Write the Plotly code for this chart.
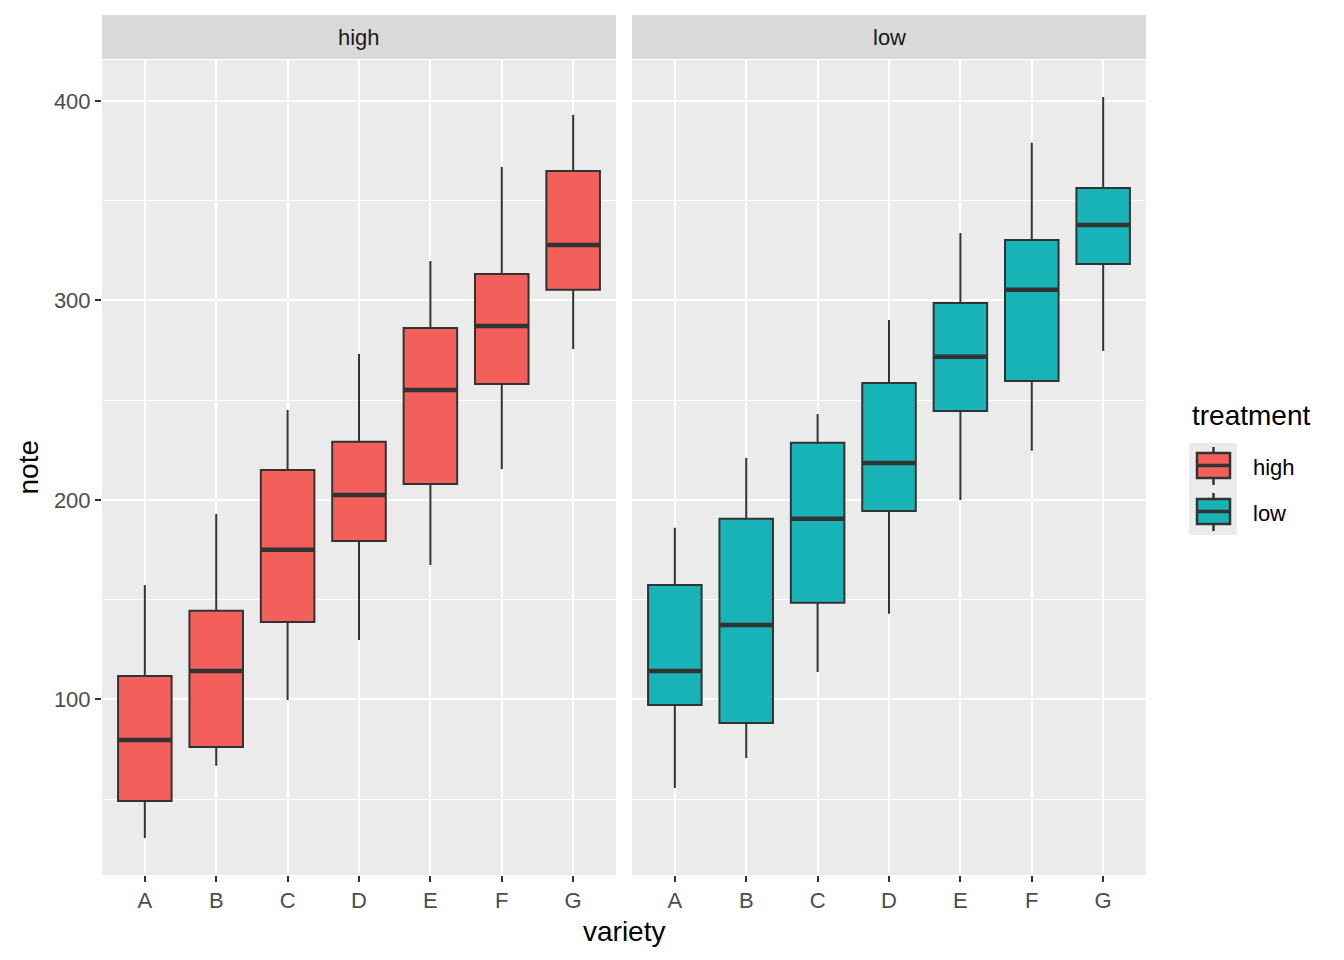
import plotly.graph_objects as go

varieties = ["A", "B", "C", "D", "E", "F", "G"]

high_lower = [30.6, 66.7, 99.7, 129.8, 167.4, 215.5, 275.7]
high_q1 = [49.1, 76.2, 138.8, 179.4, 208.0, 258.1, 305.3]
high_median = [79.7, 114.3, 175.0, 202.5, 255.1, 287.2, 327.8]
high_q3 = [111.8, 144.4, 215.0, 229.1, 286.2, 313.3, 364.9]
high_upper = [157.4, 193.0, 245.1, 273.2, 319.8, 366.9, 393.0]

low_lower = [55.6, 70.7, 113.8, 142.9, 200.0, 224.6, 274.7]
low_q1 = [97.2, 88.2, 148.4, 194.5, 244.6, 259.6, 318.3]
low_median = [114.3, 137.3, 190.5, 218.5, 271.7, 305.3, 337.8]
low_q3 = [157.4, 190.5, 228.6, 258.6, 298.7, 330.3, 356.4]
low_upper = [186.0, 221.0, 243.1, 290.2, 333.8, 379.0, 402.0]

treatments = ["high", "low"]
fills = ["#F35F5A", "#18B3B7"]
y_ticks = [100, 200, 300, 400]

# page offset (body margin) compensation
OFF = 8
W = 1344 - OFF
H = 960 - OFF
# plot area in page pixels
PX0, PX1, PY0, PY1 = 102, 1146, 60, 875
ml = PX0 - OFF
mt = PY0 - OFF
mr = W - (PX1 - OFF)
mb = H - (PY1 - OFF)
pw = PX1 - PX0
ph = PY1 - PY0

def px(x):
    return (x - PX0) / pw

def py(y):
    return (PY1 - y) / ph

gap = 16
d1 = [0, (pw - gap) / 2 / pw]
d2 = [1 - (pw - gap) / 2 / pw, 1]

line_col = "#333333"
idx = list(range(len(varieties)))
bw = 0.75

fig = go.Figure()

def add_panel(name, color, lo, q1, med, q3, up, xa, ya):
    fig.add_trace(go.Box(
        name=name, x=idx, lowerfence=lo, q1=q1, median=med, q3=q3, upperfence=up,
        fillcolor=color, line=dict(color=line_col, width=2), whiskerwidth=0,
        width=bw, boxpoints=False, xaxis=xa, yaxis=ya, showlegend=False,
    ))
    mx, my = [], []
    for i, m in zip(idx, med):
        mx += [i - bw / 2, i + bw / 2, None]
        my += [m, m, None]
    fig.add_trace(go.Scatter(
        x=mx, y=my, mode="lines", line=dict(color=line_col, width=4.5),
        xaxis=xa, yaxis=ya, showlegend=False, hoverinfo="skip",
    ))

add_panel(treatments[0], fills[0], high_lower, high_q1, high_median, high_q3, high_upper, "x", "y")
add_panel(treatments[1], fills[1], low_lower, low_q1, low_median, low_q3, low_upper, "x2", "y2")

FONT = "Liberation Sans, Arial"
tickfont = dict(family=FONT, size=22, color="#4d4d4d")
xcommon = dict(
    range=[-0.6, 6.6], tickvals=idx, ticktext=varieties, showgrid=True,
    gridcolor="white", gridwidth=2.2, zeroline=False, ticks="outside", ticklen=6,
    tickcolor=line_col, tickwidth=2, tickfont=tickfont, showline=False,
)
ycommon = dict(
    range=[12, 420.5], tickvals=y_ticks, showgrid=True, gridcolor="white",
    gridwidth=2.2, zeroline=False,
    minor=dict(tickvals=[50, 150, 250, 350], showgrid=True, gridcolor="white",
               gridwidth=1.1, ticks=""),
)

fig.update_layout(
    width=W, height=H,
    margin=dict(l=ml, r=mr, t=mt, b=mb, pad=0),
    paper_bgcolor="white",
    plot_bgcolor="#EBEBEB",
    font=dict(family=FONT, color="#1a1a1a"),
    xaxis=dict(domain=d1, anchor="y", **xcommon),
    xaxis2=dict(domain=d2, anchor="y2", **xcommon),
    yaxis=dict(domain=[0, 1], anchor="x", ticks="outside", ticklen=6,
               tickcolor=line_col, tickwidth=2, tickfont=tickfont, **ycommon),
    yaxis2=dict(domain=[0, 1], anchor="x2", matches="y", showticklabels=False,
                ticks="", **ycommon),
    showlegend=False,
)

# facet strips
s_bot = py(PY0 - 1)
s_top = py(15)
for d, lab in [(d1, treatments[0]), (d2, treatments[1])]:
    fig.add_shape(type="rect", xref="paper", yref="paper", x0=d[0], x1=d[1],
                  y0=s_bot, y1=s_top, fillcolor="#D9D9D9", line=dict(width=0), layer="below")
    fig.add_annotation(text=lab, xref="paper", yref="paper", x=(d[0] + d[1]) / 2,
                       y=(s_bot + s_top) / 2, yanchor="middle", xanchor="center",
                       showarrow=False, font=dict(size=22, color="#1a1a1a"))

# axis titles
fig.add_annotation(text="variety", xref="paper", yref="paper", x=0.5,
                   y=py(931), showarrow=False, yanchor="middle", xanchor="center",
                   font=dict(size=28, color="black"))
fig.add_annotation(text="note", xref="paper", yref="paper", x=px(28),
                   y=0.5, showarrow=False, textangle=-90, xanchor="center",
                   yanchor="middle", font=dict(size=28, color="black"))

# legend (ggplot-style keys)
fig.add_annotation(text="treatment", xref="paper", yref="paper", x=px(1190),
                   y=py(415), showarrow=False, xanchor="left", yanchor="middle",
                   font=dict(size=28, color="black"))
fig.add_shape(type="rect", xref="paper", yref="paper", x0=px(1189), x1=px(1237),
              y0=py(443), y1=py(535), fillcolor="#EBEBEB", line=dict(width=0))
key_top = 443
key_h = 46
for k, (lab, col) in enumerate(zip(treatments, fills)):
    t = key_top + k * key_h
    cx = 1213.5
    fig.add_shape(type="line", xref="paper", yref="paper", x0=px(cx), x1=px(cx),
                  y0=py(t + 4), y1=py(t + 42), line=dict(color=line_col, width=2.5))
    fig.add_shape(type="rect", xref="paper", yref="paper", x0=px(1197), x1=px(1230),
                  y0=py(t + 10), y1=py(t + 35), fillcolor=col,
                  line=dict(color=line_col, width=2.5))
    fig.add_shape(type="line", xref="paper", yref="paper", x0=px(1197), x1=px(1230),
                  y0=py(t + 22.5), y1=py(t + 22.5), line=dict(color=line_col, width=3.5))
    fig.add_annotation(text=lab, xref="paper", yref="paper", x=px(1251),
                       y=py(t + 24), showarrow=False, xanchor="left", yanchor="middle",
                       font=dict(size=22, color="black"))

fig.write_html("out.html")
